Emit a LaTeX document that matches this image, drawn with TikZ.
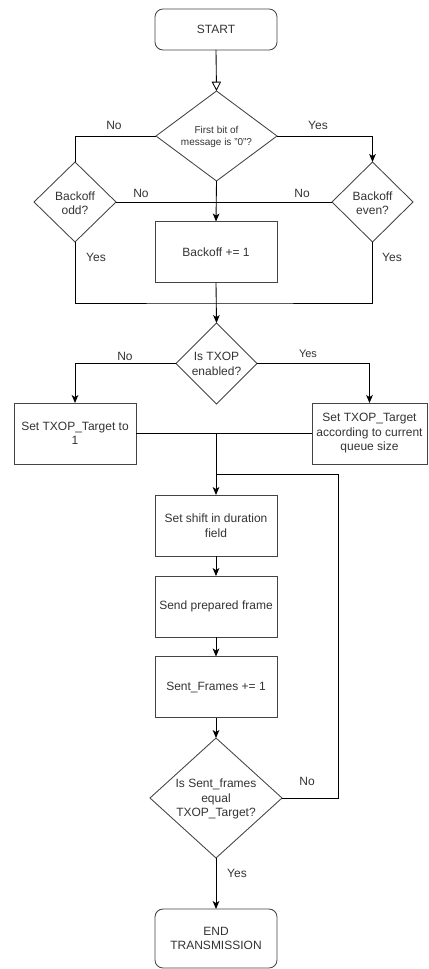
\documentclass[tikz,border=0pt]{standalone}
\usepackage{fontspec}
\setmainfont{Liberation Sans}
\usetikzlibrary{shapes.geometric,arrows.meta}
\definecolor{txt}{HTML}{333333}
\definecolor{bord}{HTML}{444444}
\begin{document}
\begin{tikzpicture}[x=0.75pt,y=-0.75pt,
  every node/.style={inner sep=0pt,outer sep=0pt,text=txt,font=\fontsize{9pt}{10.9pt}\selectfont,align=center},
  boxnode/.style={draw=bord,line width=0.65pt,rectangle,minimum width=91.5pt,minimum height=45.75pt},
  termnode/.style={boxnode,rounded corners=6pt},
  decnode/.style={draw=bord,line width=0.65pt,diamond},
  lbl/.style={font=\fontsize{9pt}{10.9pt}\selectfont},
  conn/.style={draw=black,line width=0.65pt},
  arr/.style={conn,-{Stealth[length=6pt,width=5pt,inset=1.6pt]}},
  openarr/.style={conn,-{Triangle[open,length=7pt,width=7pt]}}
]
\useasboundingbox (0,0) rectangle (428,969);

% nodes
\node[termnode,minimum height=30.75pt] (start) at (216,29.5) {START};
\node[decnode,minimum width=90.75pt,minimum height=67.5pt] (d1) at (216.5,136) {};
\node[font=\fontsize{7.5pt}{9.5pt}\selectfont] (d1t) at (216.5,137) {First bit of\\message is "0"?};
\node[decnode,minimum width=61.5pt,minimum height=60pt] (odd) at (75,202) {};
\node (oddt) at (75,203) {Backoff\\odd?};
\node[decnode,minimum width=60.75pt,minimum height=60pt] (even) at (372.5,202) {};
\node (event) at (372.5,203) {Backoff\\even?};
\node[boxnode] (inc) at (216,252) {Backoff += 1};
\node[decnode,minimum width=60.75pt,minimum height=60.75pt] (d2) at (216.5,363.5) {};
\node (d2t) at (216.5,364) {Is TXOP\\enabled?};
\node[boxnode] (tl) at (75,433.5) {Set TXOP\_Target to\\1};
\node[boxnode,minimum width=86.25pt] (tr) at (369.5,433.5) {Set TXOP\_Target\\according to current\\queue size};
\node[boxnode] (shift) at (216,525.5) {Set shift in duration\\field};
\node[boxnode] (send) at (216,606.5) {Send prepared frame};
\node[boxnode] (sentf) at (216,687) {Sent\_Frames += 1};
\node[decnode,minimum width=99pt,minimum height=90pt] (d3) at (216,798) {};
\node (d3t) at (216,799) {Is Sent\_frames\\equal\\TXOP\_Target?};
\node[termnode,minimum height=44.25pt] (end) at (216,938.5) {END\\TRANSMISSION};

% junctions
\coordinate (j1) at (216,303);
\coordinate (j2) at (216,434);
\coordinate (j3) at (338,474);
\coordinate (j4) at (216,474);

% connectors
\draw[openarr] (start.south) -- (d1.north);
\draw[conn] (d1.west) -| (odd.north);
\draw[arr] (d1.east) -| (even.north);
\draw[conn] (odd.east) -- (even.west);
\draw[arr] (d1.south) -- (inc.north);
\draw[conn] (odd.south) |- (j1) -| (even.south);
\draw[arr] (inc.south) -- (d2.north);
\draw[arr] (d2.west) -| (tl.north);
\draw[arr] (d2.east) -| (tr.north);
\draw[conn] (tl.east) -- (tr.west);
\draw[arr] (j2) -- (shift.north);
\draw[conn] (d3.east) -| (j3) -- (j4);
\draw[arr] (shift.south) -- (send.north);
\draw[arr] (send.south) -- (sentf.north);
\draw[arr] (sentf.south) -- (d3.north);
\draw[arr] (d3.south) -- (end.north);

% labels
\node[lbl] (l1) at (114,125) {No};
\node[lbl] (l2) at (318,125) {Yes};
\node[lbl] (l3) at (141,193.5) {No};
\node[lbl] (l4) at (302,193.5) {No};
\node[lbl] (l5) at (96,257) {Yes};
\node[lbl] (l6) at (392,257) {Yes};
\node[lbl] (l7) at (125,356) {No};
\node[lbl,font=\fontsize{8.25pt}{10pt}\selectfont] (l8) at (308,354) {Yes};
\node[lbl] (l9) at (307,781) {No};
\node[lbl] (l10) at (237,873) {Yes};
\end{tikzpicture}
\end{document}
